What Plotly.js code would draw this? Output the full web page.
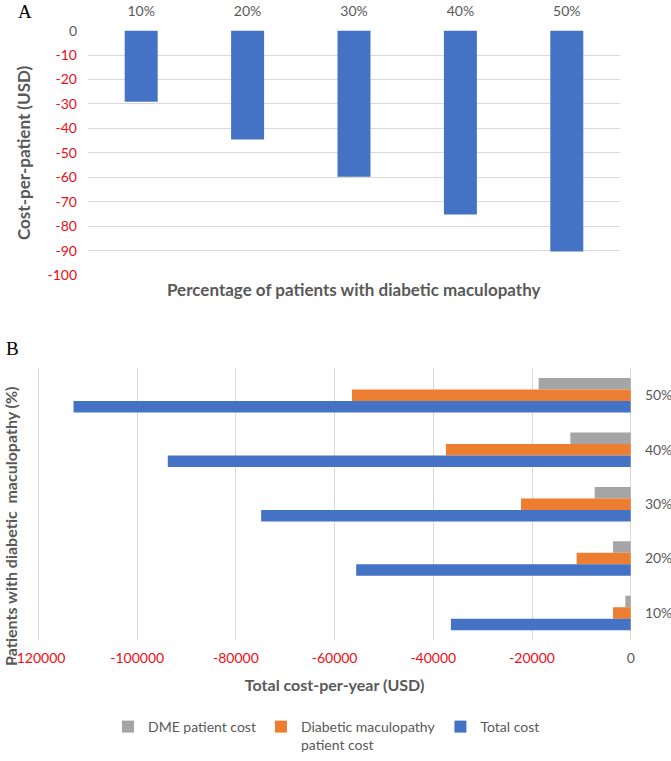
<!DOCTYPE html>
<html><head><meta charset="utf-8">
<script src="https://cdn.plot.ly/plotly-3.0.1.min.js"></script>
<style>html,body{margin:0;padding:0;background:#fff}#chart{width:671px;height:761px}</style>
</head><body><div id="chart"></div>
<script>
// ---- data ----
const pctLabels = ['10%', '20%', '30%', '40%', '50%'];
const costPerPatient = [-29.1, -44.5, -59.8, -75.2, -90.4];
const dmeCost = [-1080, -3580, -7300, -12230, -18650];
const maculopathyCost = [-3580, -10950, -22230, -37450, -56490];
const totalCost = [-36430, -55620, -74880, -93800, -112900];
const yTicksA = [0, -10, -20, -30, -40, -50, -60, -70, -80, -90, -100];
const xTicksB = [-120000, -100000, -80000, -60000, -40000, -20000, 0];

const RED = '#ec0c16', GRAY = '#595959', FONT = 'Lato, "Open Sans", sans-serif';
const colorTick = v => v < 0 ? '<span style="color:' + RED + '">' + v + '</span>' : String(v);

const traces = [
  {type: 'bar', x: pctLabels, y: costPerPatient, xaxis: 'x', yaxis: 'y',
   marker: {color: '#4472C4'}, width: 0.31, showlegend: false, hoverinfo: 'x+y'},
  {type: 'bar', orientation: 'h', y: pctLabels, x: dmeCost, xaxis: 'x2', yaxis: 'y2',
   name: 'DME patient cost', marker: {color: '#A5A5A5'}, width: 0.211, offset: 0.105},
  {type: 'bar', orientation: 'h', y: pctLabels, x: maculopathyCost, xaxis: 'x2', yaxis: 'y2',
   name: 'Diabetic maculopathy<br>patient cost', marker: {color: '#ED7D31'}, width: 0.211, offset: -0.106},
  {type: 'bar', orientation: 'h', y: pctLabels, x: totalCost, xaxis: 'x2', yaxis: 'y2',
   name: 'Total cost', marker: {color: '#4472C4'}, width: 0.211, offset: -0.317}
];

const W = 671, H = 761;
const px = v => v / W, py = v => 1 - v / H;
const titleFontA = {family: FONT, size: 17, color: GRAY, weight: 'bold'};
const titleFontB = {family: FONT, size: 16, color: GRAY, weight: 'bold'};

const layout = {
  width: W, height: H,
  margin: {l: 0, r: 0, t: 0, b: 0},
  paper_bgcolor: '#fff', plot_bgcolor: '#fff',
  font: {family: FONT, size: 14, color: GRAY},
  barmode: 'overlay',
  xaxis: {domain: [px(88), px(620)], anchor: 'y', side: 'top', type: 'category',
          showgrid: false, zeroline: false, showline: false, ticks: '',
          ticklabelstandoff: 10, tickfont: {size: 14, color: GRAY}, automargin: false},
  yaxis: {domain: [py(278.99), py(30.01)], anchor: 'x', range: [-100.4, 0.4],
          tickvals: yTicksA, ticktext: yTicksA.map(colorTick),
          showgrid: true, gridcolor: '#D9D9D9', gridwidth: 1, zeroline: false, showline: false,
          ticks: '', ticklabelstandoff: 10, tickfont: {size: 14, color: GRAY}, automargin: false,
          title: {text: 'Cost-per-patient (USD)', font: titleFontA, standoff: 12}},
  xaxis2: {domain: [px(37.32), px(631.88)], anchor: 'y2', range: [-120240, 240],
           tickvals: xTicksB, ticktext: xTicksB.map(colorTick),
           showgrid: true, gridcolor: '#D9D9D9', gridwidth: 1, zeroline: false, showline: false,
           ticks: '', ticklabelstandoff: 8, tickfont: {size: 14, color: GRAY}, automargin: false,
           title: {text: 'Total cost-per-year (USD)', font: titleFontB, standoff: 14}},
  yaxis2: {domain: [py(647), py(372)], anchor: 'x2', side: 'right', type: 'category',
           range: [-0.5, 4.5], showgrid: false, zeroline: false, showline: false, ticks: '',
           ticklabelstandoff: 12, tickfont: {size: 14, color: GRAY}, automargin: false},
  legend: {orientation: 'h', x: px(108), y: py(719), xanchor: 'left', yanchor: 'top',
           font: {family: FONT, size: 14, color: GRAY}, valign: 'top', traceorder: 'normal',
           bgcolor: 'rgba(0,0,0,0)'},
  annotations: [
    {text: 'A', xref: 'paper', yref: 'paper', x: px(17), y: 1, xanchor: 'left', yanchor: 'top', borderpad: 0,
     showarrow: false, font: {family: '"Liberation Serif", "Times New Roman", serif', size: 19, color: '#000'}},
    {text: 'B', xref: 'paper', yref: 'paper', x: px(4), y: py(352), xanchor: 'left', yanchor: 'middle',
     showarrow: false, font: {family: '"Liberation Serif", "Times New Roman", serif', size: 19, color: '#000'}},
    {text: 'Percentage of patients with diabetic maculopathy', xref: 'paper', yref: 'paper',
     x: px(354), y: py(293), xanchor: 'center', yanchor: 'middle', showarrow: false, font: titleFontA},
    {text: 'Patients with diabetic\u00a0 maculopathy (%)', xref: 'paper', yref: 'paper', borderpad: 0,
     x: px(10.5), y: py(532), xanchor: 'center', yanchor: 'middle', textangle: -90, showarrow: false, font: titleFontB}
  ]
};

Plotly.newPlot('chart', traces, layout, {displayModeBar: false, staticPlot: true});
</script>
</body></html>
